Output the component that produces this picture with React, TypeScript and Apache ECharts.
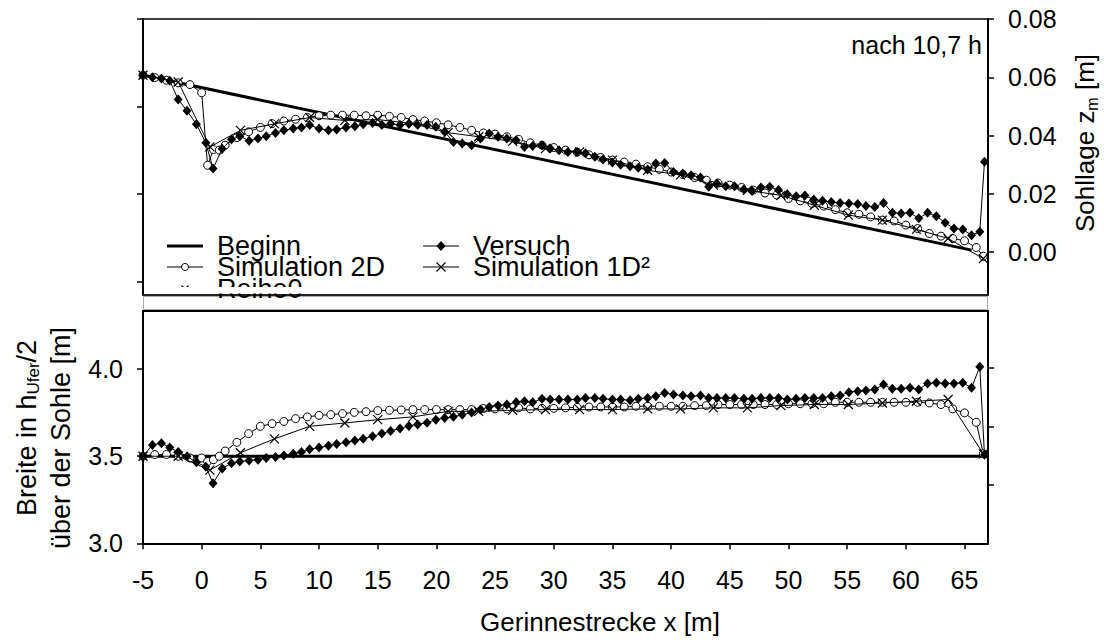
import React, { useEffect, useRef } from 'react';
import * as echarts from 'echarts';

const FONT = "'Liberation Sans', Arial, Helvetica, sans-serif";

const xTicks = [-5, 0, 5, 10, 15, 20, 25, 30, 35, 40, 45, 50, 55, 60, 65];
const zTicks = [0, 0.02, 0.04, 0.06, 0.08];
const zLeftTicks = [-0.01, 0.02, 0.05, 0.08];
const bTicks = [3.0, 3.5, 4.0];
const bRightTicks = [3.3354, 3.6708, 4.0062];

const legendCol1 = ['Beginn', 'Simulation 2D', 'Reihe0'];
const legendCol2 = ['Versuch', 'Simulation 1D²'];

// ---------- top panel: Sohllage z_m [m] ----------
const beginnTop: [number, number][] = [[-5, 0.0607], [65.6, 0.0007]];

const versuchTop: [number, number][] = [
  [-5, 0.0607], [-4.2, 0.06], [-3.43, 0.0596], [-2.72, 0.0588], [-2.0, 0.0524], [-1.25, 0.0485],
  [-0.45, 0.0439], [0.35, 0.0375], [0.97, 0.0287], [1.75, 0.0355], [2.54, 0.0387], [3.25, 0.0398],
  [4.04, 0.0382], [4.8, 0.039], [5.5, 0.0398], [6.29, 0.0409], [7.0, 0.0418], [7.8, 0.0424],
  [8.5, 0.0428], [9.2, 0.0436], [10.0, 0.0424], [10.8, 0.0418], [11.5, 0.0421], [12.3, 0.0428],
  [13.05, 0.0432], [13.76, 0.0439], [14.56, 0.0443], [15.35, 0.0436], [16.1, 0.0441], [16.9, 0.0436],
  [17.65, 0.0441], [18.4, 0.0436], [19.2, 0.0436], [19.95, 0.043], [20.7, 0.0413], [21.45, 0.0378],
  [22.2, 0.0373], [23.0, 0.0367], [23.75, 0.039], [24.5, 0.0407], [25.25, 0.0396], [26.0, 0.039],
  [26.8, 0.0384], [27.5, 0.0361], [28.2, 0.0364], [29.0, 0.0367], [29.7, 0.0356], [30.45, 0.035],
  [31.2, 0.0344], [32.0, 0.0344], [32.7, 0.0339], [33.5, 0.0327], [34.2, 0.0318], [35.0, 0.0308],
  [35.7, 0.03], [36.5, 0.0295], [37.2, 0.029], [38.0, 0.0284], [38.7, 0.0304], [39.45, 0.0306],
  [40.2, 0.0275], [41.0, 0.027], [41.7, 0.0264], [42.5, 0.0256], [43.2, 0.0224], [43.9, 0.0236],
  [44.65, 0.0226], [45.4, 0.0226], [46.2, 0.0215], [46.9, 0.021], [47.65, 0.0222], [48.4, 0.0224],
  [49.15, 0.0213], [49.9, 0.0199], [50.65, 0.0192], [51.4, 0.0194], [52.15, 0.0181], [52.9, 0.0176],
  [53.65, 0.0172], [54.4, 0.0169], [55.15, 0.0167], [55.9, 0.0165], [56.6, 0.0158], [57.35, 0.0155],
  [58.1, 0.0169], [58.85, 0.0135], [59.6, 0.0133], [60.35, 0.0135], [61.1, 0.0116], [61.85, 0.0135],
  [62.6, 0.0123], [63.35, 0.0101], [64.1, 0.0081], [64.85, 0.0078], [65.6, 0.0058], [66.3, 0.007],
  [66.7, 0.031],
];

const sim2dTop: [number, number][] = [
  [-5, 0.0607], [-4, 0.0599], [-3, 0.059], [-2, 0.0581], [-1, 0.0575], [0, 0.0547], [0.5, 0.0298],
  [1, 0.0352], [1.5, 0.035], [2, 0.0367], [3, 0.0393], [4, 0.0413], [5, 0.0428], [6, 0.0441],
  [7, 0.045], [8, 0.0456], [9, 0.0462], [10, 0.0468], [11, 0.047], [12, 0.047], [13, 0.047],
  [14, 0.0468], [15, 0.047], [16, 0.0466], [17, 0.0462], [18, 0.0455], [19, 0.045], [20, 0.0444],
  [21, 0.0437], [22, 0.0428], [23, 0.0418], [24, 0.0409], [25, 0.0405], [26, 0.0396], [27, 0.0387],
  [28, 0.0375], [29, 0.0367], [30, 0.0359], [31, 0.035], [32, 0.0343], [33, 0.0334], [34, 0.0325],
  [35, 0.0316], [36, 0.0309], [37, 0.0302], [38, 0.0293], [39, 0.0284], [40, 0.0275], [41, 0.0266],
  [42, 0.0256], [43, 0.0247], [44, 0.0237], [45, 0.023], [46, 0.0222], [47, 0.0213], [48, 0.0203],
  [49, 0.0196], [50, 0.0184], [51, 0.0176], [52, 0.0167], [53, 0.0158], [54, 0.0146], [55, 0.0135],
  [56, 0.013], [57, 0.0121], [58, 0.011], [59, 0.0107], [60, 0.0093], [61, 0.0081], [62, 0.0064],
  [63, 0.0055], [64, 0.0047], [65, 0.0039], [66, 0.0016], [66.6, -0.0014],
];

const sim1dTop: [number, number][] = [
  [-5, 0.0607], [-2, 0.0584], [0.7, 0.0361], [3.3, 0.0418], [6.2, 0.044], [9.2, 0.0462],
  [12.2, 0.0452], [15.0, 0.0455], [18.0, 0.0441], [21.0, 0.041], [23.6, 0.0396], [26.5, 0.038],
  [29.3, 0.0355], [32.2, 0.0344], [35.0, 0.0316], [38.0, 0.0281], [40.8, 0.0265], [43.6, 0.023],
  [46.5, 0.0212], [49.35, 0.0195], [52.2, 0.0161], [55.1, 0.0127], [58.0, 0.011], [60.9, 0.0078],
  [63.6, 0.0047], [66.6, -0.0022],
];

// ---------- bottom panel: Breite in h_Ufer/2 ----------
const beginnBottom: [number, number][] = [[-5, 3.5], [66.7, 3.5]];

const versuchBottom: [number, number][] = [
  [-5, 3.5], [-4.2, 3.565], [-3.43, 3.575], [-2.72, 3.55], [-2.0, 3.525], [-1.25, 3.5],
  [-0.45, 3.465], [0.35, 3.44], [0.97, 3.345], [1.75, 3.43], [2.54, 3.46], [3.25, 3.47],
  [4.04, 3.475], [4.8, 3.48], [5.5, 3.49], [6.29, 3.495], [7.0, 3.505], [7.8, 3.515],
  [8.5, 3.525], [9.2, 3.54], [10.0, 3.55], [10.8, 3.56], [11.5, 3.57], [12.3, 3.58],
  [13.05, 3.59], [13.76, 3.6], [14.56, 3.615], [15.35, 3.63], [16.1, 3.645], [16.9, 3.66],
  [17.65, 3.674], [18.4, 3.683], [19.2, 3.693], [19.95, 3.71], [20.7, 3.72], [21.45, 3.727],
  [22.2, 3.738], [23.0, 3.752], [23.75, 3.768], [24.5, 3.783], [25.25, 3.791], [26.0, 3.797],
  [26.8, 3.81], [27.5, 3.816], [28.2, 3.81], [29.0, 3.83], [29.7, 3.826], [30.45, 3.826],
  [31.2, 3.826], [32.0, 3.826], [32.7, 3.835], [33.5, 3.835], [34.2, 3.83], [35.0, 3.826],
  [35.7, 3.826], [36.5, 3.822], [37.2, 3.83], [38.0, 3.835], [38.7, 3.845], [39.45, 3.864],
  [40.2, 3.854], [41.0, 3.849], [41.7, 3.845], [42.5, 3.849], [43.2, 3.835], [43.9, 3.835],
  [44.65, 3.835], [45.4, 3.835], [46.2, 3.83], [46.9, 3.83], [47.65, 3.835], [48.4, 3.835],
  [49.15, 3.835], [49.9, 3.826], [50.65, 3.83], [51.4, 3.835], [52.15, 3.835], [52.9, 3.835],
  [53.65, 3.845], [54.4, 3.849], [55.15, 3.868], [55.9, 3.874], [56.6, 3.878], [57.35, 3.883],
  [58.1, 3.912], [58.85, 3.887], [59.6, 3.887], [60.35, 3.893], [61.1, 3.883], [61.85, 3.918],
  [62.6, 3.922], [63.35, 3.918], [64.1, 3.918], [64.85, 3.922], [65.6, 3.893], [66.3, 4.014],
  [66.7, 3.509],
];

const sim2dBottom: [number, number][] = [
  [-5, 3.5], [-4, 3.51], [-3, 3.51], [-2, 3.5], [-1, 3.49], [0, 3.49], [0.5, 3.47], [1, 3.48],
  [1.5, 3.5], [2, 3.53], [3, 3.58], [4, 3.63], [5, 3.672], [6, 3.687], [7, 3.7], [8, 3.716],
  [9, 3.726], [10, 3.735], [11, 3.739], [12, 3.745], [13, 3.752], [14, 3.756], [15, 3.762],
  [16, 3.764], [17, 3.766], [18, 3.768], [19, 3.768], [20, 3.768], [21, 3.768], [22, 3.768],
  [23, 3.768], [24, 3.774], [25, 3.772], [26, 3.772], [27, 3.778], [28, 3.772], [29, 3.775],
  [30, 3.775], [31, 3.778], [32, 3.781], [33, 3.783], [34, 3.783], [35, 3.783], [36, 3.783],
  [37, 3.787], [38, 3.787], [39, 3.787], [40, 3.787], [41, 3.787], [42, 3.791], [43, 3.791],
  [44, 3.797], [45, 3.797], [46, 3.797], [47, 3.797], [48, 3.797], [49, 3.797], [50, 3.802],
  [51, 3.802], [52, 3.802], [53, 3.802], [54, 3.81], [55, 3.81], [56, 3.81], [57, 3.81],
  [58, 3.81], [59, 3.81], [60, 3.81], [61, 3.81], [62, 3.806], [63, 3.797], [64, 3.772],
  [65, 3.749], [66, 3.695], [66.6, 3.514],
];

const sim1dBottom: [number, number][] = [
  [-5, 3.5], [-2, 3.5], [0.7, 3.42], [3.3, 3.52], [6.2, 3.6], [9.2, 3.672], [12.2, 3.691],
  [15.0, 3.71], [18.0, 3.726], [21.0, 3.758], [23.6, 3.758], [26.5, 3.764], [29.3, 3.768],
  [32.2, 3.768], [35.0, 3.768], [38.0, 3.772], [40.8, 3.772], [43.6, 3.778], [46.5, 3.778],
  [49.35, 3.791], [52.2, 3.797], [55.1, 3.797], [58.0, 3.806], [60.9, 3.816], [63.6, 3.826],
  [66.6, 3.514],
];

const X_SYMBOL = 'path://M0,0L10,10M10,0L0,10';

// legend drawing helpers (graphic elements)
function legendLine(x: number, y: number, w: number, lw: number) {
  return { type: 'line', z: 20, silent: true, shape: { x1: x, y1: y, x2: x + w, y2: y }, style: { stroke: '#000', lineWidth: lw } };
}
function legendX(cx: number, cy: number, r: number) {
  return [
    { type: 'line', z: 21, silent: true, shape: { x1: cx - r, y1: cy - r, x2: cx + r, y2: cy + r }, style: { stroke: '#000', lineWidth: 1.1 } },
    { type: 'line', z: 21, silent: true, shape: { x1: cx - r, y1: cy + r, x2: cx + r, y2: cy - r }, style: { stroke: '#000', lineWidth: 1.1 } },
  ];
}
function legendText(x: number, y: number, text: string) {
  return {
    type: 'text', z: 20, silent: true, x, y,
    style: {
      text, fontSize: 27, fontFamily: FONT, fill: '#000',
      align: 'left', verticalAlign: 'middle', textAlign: 'left', textVerticalAlign: 'middle',
    },
  };
}

export default function App() {
  const ref = useRef<HTMLDivElement>(null);
  useEffect(() => {
    if (!ref.current) return;
    const chart = echarts.init(ref.current, null, { renderer: 'svg' });

    const lineAxis = (gridIndex: number, position: string, color = '#000', width = 2) => ({
      type: 'value', gridIndex, position, min: -5, max: 67,
      axisLine: { show: true, onZero: false, lineStyle: { color, width } },
      axisTick: { show: false }, axisLabel: { show: false }, splitLine: { show: false },
    });

    const tickStyle = { inside: false, length: 6, lineStyle: { color: '#000', width: 1.5 } };

    const beginnStyle = {
      type: 'line', name: 'Beginn', symbol: 'none', showSymbol: false,
      lineStyle: { color: '#000', width: 3 }, itemStyle: { color: '#000' }, z: 2,
    };
    const versuchStyle = {
      type: 'line', name: 'Versuch', symbol: 'diamond', symbolSize: [9, 10],
      lineStyle: { color: '#000', width: 1 }, itemStyle: { color: '#000' }, z: 5,
    };
    const sim2dStyle = {
      type: 'line', name: 'Simulation 2D', symbol: 'circle', symbolSize: 8,
      lineStyle: { color: '#000', width: 1 },
      itemStyle: { color: '#fff', borderColor: '#000', borderWidth: 1 }, z: 3,
    };
    const sim1dStyle = {
      type: 'line', name: 'Simulation 1D²', symbol: X_SYMBOL, symbolSize: 9,
      lineStyle: { color: '#000', width: 1 },
      itemStyle: { color: '#000', borderColor: '#000', borderWidth: 1.2 }, z: 4,
    };

    // legend layout
    const c1x = 167, c2x = 423, sw = 36, tx = 14;
    const rows = [246, 267, 289];

    const legendGraphics: any[] = [
      // column 1
      legendLine(c1x, rows[0], sw, 3),
      legendText(c1x + sw + tx, rows[0], legendCol1[0]),
      legendLine(c1x, rows[1], sw, 1),
      { type: 'circle', z: 21, silent: true, shape: { cx: c1x + sw / 2, cy: rows[1], r: 3.5 }, style: { fill: '#fff', stroke: '#000', lineWidth: 1 } },
      legendText(c1x + sw + tx, rows[1], legendCol1[1]),
      ...legendX(c1x + sw / 2, rows[2], 3.5),
      legendText(c1x + sw + tx, rows[2], legendCol1[2]),
      // column 2
      legendLine(c2x, rows[0], sw, 1),
      { type: 'polygon', z: 21, silent: true, shape: { points: [[c2x + sw / 2, rows[0] - 5], [c2x + sw / 2 + 4.5, rows[0]], [c2x + sw / 2, rows[0] + 5], [c2x + sw / 2 - 4.5, rows[0]]] }, style: { fill: '#000' } },
      legendText(c2x + sw + tx, rows[0], legendCol2[0]),
      legendLine(c2x, rows[1], sw, 1),
      ...legendX(c2x + sw / 2, rows[1], 4.5),
      legendText(c2x + sw + tx, rows[1], legendCol2[1]),
      // mask that cuts the third legend row at the panel's lower edge
      { type: 'rect', z: 50, silent: true, shape: { x: 145, y: 287, width: 320, height: 6.5 }, style: { fill: '#fff' } },
    ];

    const option: any = {
      animation: false,
      backgroundColor: '#fff',
      textStyle: { fontFamily: FONT },
      grid: [
        { left: 143, top: 19, width: 845, height: 276 },
        { left: 143, top: 310.7, width: 845, height: 232.6 },
      ],
      xAxis: [
        lineAxis(0, 'bottom', '#222', 2),
        lineAxis(0, 'top', '#000', 1.5),
        {
          type: 'value', gridIndex: 1, position: 'bottom', min: -5, max: 67,
          axisLine: { show: true, onZero: false, lineStyle: { color: '#000', width: 2 } },
          axisTick: { ...tickStyle, customValues: xTicks },
          axisLabel: {
            customValues: xTicks, margin: 24, fontSize: 25, fontFamily: FONT, color: '#000',
            formatter: (v: number) => String(v),
          },
          splitLine: { show: false },
        },
        lineAxis(1, 'top', '#000', 2),
      ],
      yAxis: [
        {
          type: 'value', gridIndex: 0, position: 'right', min: -0.0147, max: 0.08,
          axisLine: { show: true, onZero: false, lineStyle: { color: '#000', width: 2 } },
          axisTick: { ...tickStyle, customValues: zTicks },
          axisLabel: {
            customValues: zTicks, margin: 20, fontSize: 25, fontFamily: FONT, color: '#000',
            formatter: (v: number) => v.toFixed(2),
          },
          splitLine: { show: false },
        },
        {
          type: 'value', gridIndex: 0, position: 'left', min: -0.0147, max: 0.08,
          axisLine: { show: true, onZero: false, lineStyle: { color: '#000', width: 2 } },
          axisTick: { ...tickStyle, customValues: zLeftTicks },
          axisLabel: { show: false }, splitLine: { show: false },
        },
        {
          type: 'value', gridIndex: 1, position: 'left', min: 3.0, max: 4.336,
          axisLine: { show: true, onZero: false, lineStyle: { color: '#000', width: 2 } },
          axisTick: { ...tickStyle, customValues: bTicks },
          axisLabel: {
            customValues: bTicks, margin: 20, fontSize: 25, fontFamily: FONT, color: '#000',
            formatter: (v: number) => v.toFixed(1),
          },
          splitLine: { show: false },
        },
        {
          type: 'value', gridIndex: 1, position: 'right', min: 3.0, max: 4.336,
          axisLine: { show: true, onZero: false, lineStyle: { color: '#000', width: 2 } },
          axisTick: { ...tickStyle, customValues: bRightTicks },
          axisLabel: { show: false }, splitLine: { show: false },
        },
      ],
      series: [
        { ...beginnStyle, xAxisIndex: 0, yAxisIndex: 0, data: beginnTop },
        { ...sim2dStyle, xAxisIndex: 0, yAxisIndex: 0, data: sim2dTop },
        { ...sim1dStyle, xAxisIndex: 0, yAxisIndex: 0, data: sim1dTop },
        { ...versuchStyle, xAxisIndex: 0, yAxisIndex: 0, data: versuchTop },
        { ...beginnStyle, xAxisIndex: 2, yAxisIndex: 2, data: beginnBottom },
        { ...sim2dStyle, xAxisIndex: 2, yAxisIndex: 2, data: sim2dBottom },
        { ...sim1dStyle, xAxisIndex: 2, yAxisIndex: 2, data: sim1dBottom },
        { ...versuchStyle, xAxisIndex: 2, yAxisIndex: 2, data: versuchBottom },
      ],
      graphic: [
        ...legendGraphics,
        {
          type: 'rect', z: 1, silent: true,
          shape: { x: 143.5, y: 296.5, width: 844, height: 13 },
          style: { fill: 'none', stroke: '#aaa', lineWidth: 1 },
        },
        {
          type: 'text', x: 982, y: 45, z: 10,
          style: {
            text: 'nach 10,7 h', fontSize: 25, fontFamily: FONT, fill: '#000',
            align: 'right', verticalAlign: 'middle', textAlign: 'right', textVerticalAlign: 'middle',
          },
        },
        {
          type: 'text', x: 600, y: 622, z: 10,
          style: {
            text: 'Gerinnestrecke x [m]', fontSize: 26, fontFamily: FONT, fill: '#000',
            align: 'center', verticalAlign: 'middle', textAlign: 'center', textVerticalAlign: 'middle',
          },
        },
        {
          type: 'text', x: 1085, y: 143, rotation: Math.PI / 2, z: 10,
          style: {
            text: '{a|Sohllage z}{s|m}{a| [m]}', fontFamily: FONT, fill: '#000',
            align: 'center', verticalAlign: 'middle', textAlign: 'center', textVerticalAlign: 'middle',
            rich: {
              a: { fontSize: 26, fontFamily: FONT, fill: '#000', color: '#000', lineHeight: 30, verticalAlign: 'middle' },
              s: { fontSize: 16, fontFamily: FONT, fill: '#000', color: '#000', lineHeight: 30, verticalAlign: 'bottom' },
            },
          },
        },
        {
          type: 'text', x: 27, y: 428, rotation: Math.PI / 2, z: 10,
          style: {
            text: '{a|Breite in h}{s|Ufer}{a|/2}', fontFamily: FONT, fill: '#000',
            align: 'center', verticalAlign: 'middle', textAlign: 'center', textVerticalAlign: 'middle',
            rich: {
              a: { fontSize: 27, fontFamily: FONT, fill: '#000', color: '#000', lineHeight: 30, verticalAlign: 'middle' },
              s: { fontSize: 17, fontFamily: FONT, fill: '#000', color: '#000', lineHeight: 30, verticalAlign: 'bottom' },
            },
          },
        },
        {
          type: 'text', x: 61, y: 438, rotation: Math.PI / 2, z: 10,
          style: {
            text: 'über der Sohle [m]', fontSize: 27, fontFamily: FONT, fill: '#000',
            align: 'center', verticalAlign: 'middle', textAlign: 'center', textVerticalAlign: 'middle',
          },
        },
      ],
    };

    chart.setOption(option);
    return () => chart.dispose();
  }, []);

  return (
    <div
      ref={ref}
      style={{ position: 'fixed', left: 0, top: 0, width: 1104, height: 644, background: '#fff' }}
    />
  );
}
